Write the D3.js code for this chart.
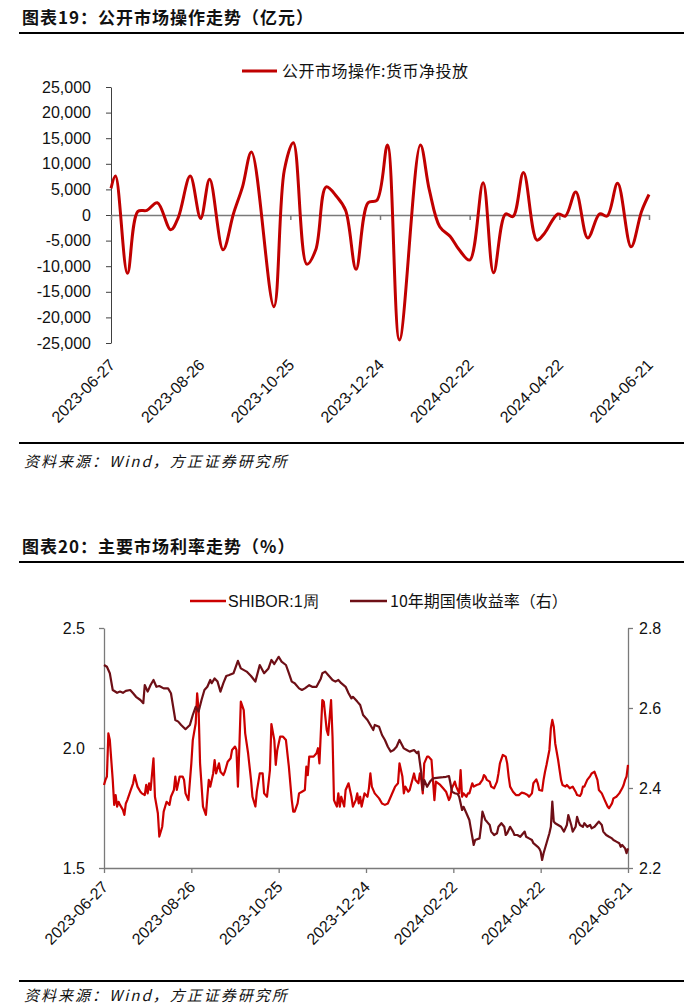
<!DOCTYPE html>
<html><head><meta charset="utf-8">
<script src="https://cdn.jsdelivr.net/npm/d3@7"></script>
<style>
body{margin:0;background:#fff;}
svg text{font-family:"Liberation Sans",Arial,sans-serif;fill:#111;}
svg text.cjk{font-family:"Noto Sans CJK SC",sans-serif;}
</style></head><body><svg id="c" width="700" height="1006"></svg>
<script>
// ---------- Chart 1: 公开市场操作 ----------
const omoDates=["2023-06-27","2023-06-30","2023-07-08","2023-07-15","2023-07-21","2023-07-28","2023-08-06","2023-08-11","2023-08-19","2023-08-26","2023-09-01","2023-09-10","2023-09-17","2023-09-23","2023-09-29","2023-10-14","2023-10-21","2023-10-27","2023-11-05","2023-11-11","2023-11-18","2023-11-25","2023-12-01","2023-12-08","2023-12-16","2023-12-22","2023-12-29","2024-01-06","2024-01-20","2024-01-26","2024-02-02","2024-02-09","2024-02-15","2024-02-22","2024-03-02","2024-03-09","2024-03-17","2024-03-22","2024-03-29","2024-04-07","2024-04-12","2024-04-21","2024-04-26","2024-05-03","2024-05-11","2024-05-19","2024-05-24","2024-05-31","2024-06-09","2024-06-16","2024-06-21"];
const omoValues=[5200,7600,-11400,700,900,2400,-2900,-500,7600,-650,7000,-6800,300,5500,12300,-17900,8800,14100,-9600,-6800,5500,3600,900,-10600,2400,2900,13650,-24400,13650,4900,-2300,-4200,-6800,-8800,6300,-11300,200,-300,8300,-4900,-3600,200,-200,4500,-4500,200,-200,6200,-6200,700,4000];
const omoTicks=[25000,20000,15000,10000,5000,0,-5000,-10000,-15000,-20000,-25000];
const dateTicks=["2023-06-27","2023-08-26","2023-10-25","2023-12-24","2024-02-22","2024-04-22","2024-06-21"];

// ---------- Chart 2: 主要市场利率 ----------
const shiborDates=["2023-06-27","2023-06-28","2023-06-29","2023-06-30","2023-07-01","2023-07-03","2023-07-04","2023-07-05","2023-07-06","2023-07-07","2023-07-08","2023-07-10","2023-07-11","2023-07-12","2023-07-13","2023-07-15","2023-07-17","2023-07-18","2023-07-20","2023-07-22","2023-07-23","2023-07-25","2023-07-26","2023-07-27","2023-07-28","2023-07-29","2023-07-31",
"2023-08-01","2023-08-03","2023-08-04","2023-08-06","2023-08-07","2023-08-09","2023-08-11","2023-08-12","2023-08-14","2023-08-15","2023-08-16","2023-08-18","2023-08-20","2023-08-21","2023-08-22","2023-08-24","2023-08-26","2023-08-27","2023-08-29","2023-08-30","2023-08-31",
"2023-09-01","2023-09-03","2023-09-05","2023-09-06","2023-09-07","2023-09-08","2023-09-10","2023-09-11","2023-09-12","2023-09-14","2023-09-15","2023-09-17","2023-09-18","2023-09-20","2023-09-22","2023-09-23","2023-09-25","2023-09-26","2023-09-27","2023-09-28","2023-09-29",
"2023-10-01","2023-10-02","2023-10-04","2023-10-06","2023-10-07","2023-10-09","2023-10-10","2023-10-12","2023-10-14","2023-10-15","2023-10-17","2023-10-19","2023-10-20","2023-10-22","2023-10-23","2023-10-24","2023-10-26","2023-10-28","2023-10-30",
"2023-11-01","2023-11-03","2023-11-04","2023-11-05","2023-11-07","2023-11-08","2023-11-10","2023-11-12","2023-11-13","2023-11-14","2023-11-15","2023-11-18","2023-11-20","2023-11-21","2023-11-22","2023-11-24","2023-11-25","2023-11-27","2023-11-28","2023-11-30",
"2023-12-01","2023-12-02","2023-12-03","2023-12-04","2023-12-05","2023-12-06","2023-12-07","2023-12-09","2023-12-10","2023-12-12","2023-12-13","2023-12-14","2023-12-15","2023-12-17","2023-12-18","2023-12-19","2023-12-20","2023-12-21","2023-12-23","2023-12-25","2023-12-26","2023-12-27","2023-12-28","2023-12-30",
"2024-01-02","2024-01-04","2024-01-06","2024-01-08","2024-01-10","2024-01-12","2024-01-13","2024-01-15","2024-01-16","2024-01-18","2024-01-19","2024-01-20","2024-01-22","2024-01-23","2024-01-26","2024-01-27","2024-01-29","2024-01-30","2024-01-31",
"2024-02-01","2024-02-02","2024-02-04","2024-02-05","2024-02-07","2024-02-08","2024-02-09","2024-02-10","2024-02-13","2024-02-15","2024-02-17","2024-02-19","2024-02-20","2024-02-21","2024-02-23","2024-02-24","2024-02-26","2024-02-27","2024-02-28","2024-02-29",
"2024-03-02","2024-03-03","2024-03-04","2024-03-06","2024-03-07","2024-03-09","2024-03-11","2024-03-13","2024-03-14","2024-03-15","2024-03-16","2024-03-18","2024-03-19","2024-03-21","2024-03-23","2024-03-24","2024-03-25","2024-03-27","2024-03-29","2024-03-30","2024-03-31",
"2024-04-01","2024-04-03","2024-04-05","2024-04-07","2024-04-09","2024-04-11","2024-04-13","2024-04-14","2024-04-16","2024-04-17","2024-04-19","2024-04-20","2024-04-21","2024-04-23","2024-04-24","2024-04-25","2024-04-26","2024-04-28","2024-04-29","2024-04-30",
"2024-05-01","2024-05-02","2024-05-04","2024-05-05","2024-05-06","2024-05-07","2024-05-09","2024-05-10","2024-05-12","2024-05-14","2024-05-16","2024-05-17","2024-05-19","2024-05-20","2024-05-21","2024-05-22","2024-05-24","2024-05-26","2024-05-27","2024-05-29","2024-05-31",
"2024-06-01","2024-06-03","2024-06-05","2024-06-07","2024-06-08","2024-06-10","2024-06-11","2024-06-13","2024-06-15","2024-06-17","2024-06-18","2024-06-19","2024-06-20","2024-06-21"];
const shiborValues=[1.846,1.867,1.881,2.061,2.033,1.867,1.763,1.804,1.756,1.776,1.763,1.742,1.721,1.769,1.783,1.818,1.853,1.887,1.839,1.818,1.811,1.804,1.846,1.811,1.853,1.825,1.957,
1.797,1.728,1.631,1.672,1.735,1.776,1.763,1.797,1.825,1.881,1.825,1.881,1.881,1.867,1.811,1.783,1.936,2.033,2.103,2.228,2.158,
1.936,1.756,1.721,1.797,1.867,1.839,1.894,1.950,1.894,1.936,1.901,1.887,1.901,1.943,1.957,1.992,2.006,1.992,1.839,2.006,2.193,
2.158,2.061,1.978,1.867,1.797,1.756,1.818,1.894,1.894,1.811,1.797,1.908,2.100,2.033,1.930,1.990,2.047,2.047,2.033,
1.922,1.783,1.735,1.735,1.769,1.811,1.818,1.825,1.922,1.887,1.964,1.964,1.978,1.999,1.936,2.200,2.193,2.075,2.054,2.200,
2.047,1.783,1.769,1.756,1.811,1.756,1.797,1.756,1.825,1.853,1.825,1.797,1.756,1.783,1.811,1.769,1.797,1.756,1.811,1.797,1.832,1.894,1.839,1.811,
1.790,1.769,1.763,1.769,1.797,1.825,1.839,1.853,1.936,1.881,1.811,1.839,1.818,1.825,1.894,1.867,1.853,1.894,1.867,
1.811,1.936,1.964,1.964,1.950,1.867,1.783,1.860,1.846,1.832,1.818,1.783,1.797,1.832,1.860,1.839,1.811,1.908,1.797,1.811,
1.797,1.811,1.811,1.853,1.839,1.846,1.850,1.867,1.887,1.881,1.867,1.860,1.839,1.832,1.860,1.894,1.936,1.971,1.964,1.936,1.881,
1.839,1.818,1.804,1.804,1.814,1.811,1.804,1.797,1.811,1.853,1.869,1.853,1.825,1.822,1.867,1.901,1.929,1.992,2.082,2.117,
2.089,2.019,1.950,1.908,1.867,1.846,1.839,1.846,1.832,1.839,1.818,1.804,1.800,1.811,1.839,1.839,1.867,1.883,1.894,1.901,1.867,
1.825,1.811,1.783,1.756,1.749,1.769,1.790,1.797,1.811,1.832,1.846,1.867,1.881,1.930];

const bondDates=["2023-06-27","2023-06-29","2023-07-01","2023-07-03","2023-07-06","2023-07-08","2023-07-10","2023-07-12","2023-07-15","2023-07-17","2023-07-19","2023-07-22","2023-07-24","2023-07-25","2023-07-27","2023-07-29","2023-07-31",
"2023-08-02","2023-08-04","2023-08-07","2023-08-10","2023-08-12","2023-08-15","2023-08-17","2023-08-19","2023-08-22","2023-08-25","2023-08-27","2023-08-29","2023-08-31",
"2023-09-02","2023-09-04","2023-09-06","2023-09-08","2023-09-09","2023-09-11","2023-09-13","2023-09-15","2023-09-17","2023-09-19","2023-09-21","2023-09-24","2023-09-27","2023-09-29",
"2023-10-03","2023-10-06","2023-10-09","2023-10-12","2023-10-15","2023-10-18","2023-10-20","2023-10-22","2023-10-25","2023-10-27","2023-10-30",
"2023-11-01","2023-11-03","2023-11-05","2023-11-08","2023-11-10","2023-11-12","2023-11-15","2023-11-17","2023-11-20","2023-11-23","2023-11-24","2023-11-26","2023-11-28",
"2023-12-01","2023-12-03","2023-12-05","2023-12-07","2023-12-10","2023-12-12","2023-12-14","2023-12-15","2023-12-18","2023-12-20","2023-12-22","2023-12-25","2023-12-27","2023-12-29","2023-12-30",
"2024-01-02","2024-01-04","2024-01-06","2024-01-08","2024-01-10","2024-01-12","2024-01-14","2024-01-16","2024-01-19","2024-01-21","2024-01-23","2024-01-26","2024-01-28","2024-01-29","2024-01-31",
"2024-02-01","2024-02-02","2024-02-04","2024-02-06","2024-02-08","2024-02-12","2024-02-15","2024-02-17","2024-02-19","2024-02-20","2024-02-21","2024-02-23","2024-02-25","2024-02-26","2024-02-27","2024-02-28","2024-02-29",
"2024-03-02","2024-03-04","2024-03-05","2024-03-06","2024-03-07","2024-03-08","2024-03-11","2024-03-12","2024-03-13","2024-03-15","2024-03-16","2024-03-18","2024-03-19","2024-03-21","2024-03-23","2024-03-24","2024-03-26","2024-03-28","2024-03-29","2024-03-30",
"2024-04-01","2024-04-03","2024-04-04","2024-04-06","2024-04-08","2024-04-10","2024-04-11","2024-04-12","2024-04-14","2024-04-16","2024-04-17","2024-04-20","2024-04-21","2024-04-22","2024-04-23","2024-04-24","2024-04-26","2024-04-28","2024-04-29","2024-04-30",
"2024-05-01","2024-05-02","2024-05-04","2024-05-06","2024-05-08","2024-05-10","2024-05-11","2024-05-13","2024-05-14","2024-05-16","2024-05-17","2024-05-18","2024-05-19","2024-05-21","2024-05-22","2024-05-24","2024-05-26","2024-05-27","2024-05-29","2024-05-31",
"2024-06-01","2024-06-03","2024-06-04","2024-06-06","2024-06-08","2024-06-10","2024-06-11","2024-06-13","2024-06-15","2024-06-16","2024-06-17","2024-06-19","2024-06-20","2024-06-21"];
const bondValues=[2.7075,2.703,2.687,2.645,2.638,2.641,2.638,2.643,2.645,2.637,2.628,2.620,2.612,2.6575,2.641,2.6575,2.670,
2.653,2.655,2.649,2.649,2.637,2.570,2.566,2.5575,2.547,2.5575,2.5825,2.603,2.591,
2.620,2.645,2.653,2.670,2.662,2.674,2.666,2.641,2.662,2.680,2.6825,2.687,2.718,2.699,
2.691,2.680,2.666,2.7075,2.687,2.699,2.720,2.710,2.728,2.716,2.7075,
2.687,2.666,2.662,2.649,2.645,2.649,2.657,2.653,2.653,2.674,2.687,2.691,2.6825,
2.670,2.666,2.670,2.662,2.653,2.637,2.624,2.628,2.616,2.6075,2.5825,2.570,2.5575,2.545,2.5575,
2.553,2.5325,2.520,2.503,2.491,2.495,2.503,2.520,2.499,2.495,2.491,2.495,2.487,2.491,2.437,
2.395,2.420,2.403,2.416,2.424,2.426,2.427,2.428,2.430,2.412,2.391,2.387,2.385,2.378,2.362,2.345,2.353,
2.337,2.320,2.299,2.278,2.2575,2.270,2.274,2.303,2.341,2.320,2.316,2.3075,2.291,2.2825,2.287,2.303,2.312,2.303,2.2825,2.287,
2.303,2.291,2.2825,2.2825,2.278,2.287,2.291,2.278,2.274,2.270,2.262,2.253,2.249,2.241,2.220,2.237,2.262,2.287,2.303,2.366,
2.316,2.312,2.3075,2.303,2.291,2.3075,2.3325,2.3075,2.291,2.303,2.328,2.316,2.3075,2.303,2.312,2.303,2.3075,2.299,2.303,2.312,
2.316,2.3075,2.291,2.2825,2.278,2.274,2.270,2.266,2.262,2.253,2.2575,2.249,2.237,2.249];
const leftTicks=[2.5,2.0,1.5];
const rightTicks=[2.8,2.6,2.4,2.2];

// ---------- drawing ----------
const svg=d3.select("#c");
const parse=d3.timeParse("%Y-%m-%d");
const fmtK=v=>d3.format(",")(v).replace("\u2212","-");
const RED="#C00000", SHIB="#CC0000", BOND="#6E0F16";

function header(y,title){
  svg.append("text").attr("class","cjk").attr("x",22).attr("y",y)
    .attr("font-size",17).attr("font-weight",700).attr("letter-spacing",1).text(title);
  svg.append("line").attr("x1",19).attr("x2",684).attr("y1",y+9).attr("y2",y+9)
    .attr("stroke","#000").attr("stroke-width",2.2);
}
function footer(y,gap){
  svg.append("line").attr("x1",19).attr("x2",684).attr("y1",y).attr("y2",y)
    .attr("stroke","#000").attr("stroke-width",2.2);
  svg.append("text").attr("class","cjk").attr("x",24).attr("y",y+gap)
    .attr("font-size",15).attr("font-style","italic").attr("letter-spacing",2).attr("fill","#222")
    .text("资料来源：Wind，方正证券研究所");
}
function dateLabels(g,x,y0){
  g.selectAll("text.dl").data(dateTicks).join("text").attr("class","dl")
    .attr("transform",d=>`translate(${x(parse(d))+5},${y0}) rotate(-45)`)
    .attr("text-anchor","end").attr("font-size",16).attr("fill","#111").text(d=>d);
}

// Chart 1
header(24,"图表19：公开市场操作走势（亿元）");
const x1=d3.scaleTime().domain([parse(dateTicks[0]),parse(dateTicks[6])]).range([111,649]);
const y1=d3.scaleLinear().domain([-25000,25000]).range([343,87]);
const g1=svg.append("g");
const ya1=g1.append("g").attr("transform","translate(111,0)")
  .call(d3.axisLeft(y1).tickValues(omoTicks).tickSize(5).tickSizeOuter(0).tickPadding(15).tickFormat(fmtK));
ya1.selectAll("path,line").attr("stroke","#404040");
ya1.selectAll("text").attr("font-size",16).attr("fill","#111").attr("font-family","Liberation Sans, Arial, sans-serif");
const xa1=g1.append("g").attr("transform",`translate(0,${y1(0)})`)
  .call(d3.axisBottom(x1).tickValues(dateTicks.map(parse)).tickSize(5).tickSizeOuter(0).tickFormat(""));
xa1.selectAll("path,line").attr("stroke","#7a7a7a").attr("stroke-width",1.5);
dateLabels(g1,x1,366);
g1.append("path").attr("fill","none").attr("stroke",RED).attr("stroke-width",3)
  .attr("d",d3.line().curve(d3.curveCatmullRom.alpha(0.5)).x((d,i)=>x1(parse(omoDates[i]))).y(d=>y1(d))(omoValues));
// legend 1
svg.append("line").attr("x1",242).attr("x2",277).attr("y1",71).attr("y2",71).attr("stroke",RED).attr("stroke-width",3);
svg.append("text").attr("class","cjk").attr("x",282).attr("y",77).attr("font-size",16).attr("letter-spacing",0.5).attr("fill","#222")
  .text("公开市场操作:货币净投放");
footer(443,24);

// Chart 2
header(553,"图表20：主要市场利率走势（%）");
const x2=d3.scaleTime().domain([parse(dateTicks[0]),parse(dateTicks[6])]).range([104,628]);
const yL=d3.scaleLinear().domain([1.5,2.5]).range([868,628]);
const yR=d3.scaleLinear().domain([2.2,2.8]).range([868,628]);
const g2=svg.append("g");
const la=g2.append("g").attr("transform","translate(104,0)")
  .call(d3.axisLeft(yL).tickValues(leftTicks).tickSize(5).tickSizeOuter(0).tickPadding(14).tickFormat(d3.format(".1f")));
const ra=g2.append("g").attr("transform","translate(628,0)")
  .call(d3.axisRight(yR).tickValues(rightTicks).tickSize(5).tickSizeOuter(0).tickPadding(6).tickFormat(d3.format(".1f")));
const ba=g2.append("g").attr("transform","translate(0,868)")
  .call(d3.axisBottom(x2).tickValues(dateTicks.map(parse)).tickSize(5).tickSizeOuter(0).tickFormat(""));
[la,ra,ba].forEach(a=>{a.selectAll("path,line").attr("stroke","#7a7a7a").attr("stroke-width",1.3);
  a.selectAll("text").attr("font-size",16).attr("fill","#111").attr("font-family","Liberation Sans, Arial, sans-serif");});
dateLabels(g2,x2,888);
g2.append("path").attr("fill","none").attr("stroke",SHIB).attr("stroke-width",2.2).attr("stroke-linejoin","round")
  .attr("d",d3.line().x((d,i)=>x2(parse(shiborDates[i]))).y(d=>yL(d))(shiborValues));
g2.append("path").attr("fill","none").attr("stroke",BOND).attr("stroke-width",2.2).attr("stroke-linejoin","round")
  .attr("d",d3.line().x((d,i)=>x2(parse(bondDates[i]))).y(d=>yR(d))(bondValues));
// legend 2
svg.append("line").attr("x1",190).attr("x2",226).attr("y1",601).attr("y2",601).attr("stroke",SHIB).attr("stroke-width",2.5);
svg.append("text").attr("x",228).attr("y",607).attr("font-size",16).attr("fill","#222").text("SHIBOR:1周");
svg.append("line").attr("x1",350).attr("x2",387).attr("y1",601).attr("y2",601).attr("stroke",BOND).attr("stroke-width",2.5);
svg.append("text").attr("class","cjk").attr("x",390).attr("y",607).attr("font-size",16).attr("fill","#222").text("10年期国债收益率（右）");
footer(981,20);
</script></body></html>
